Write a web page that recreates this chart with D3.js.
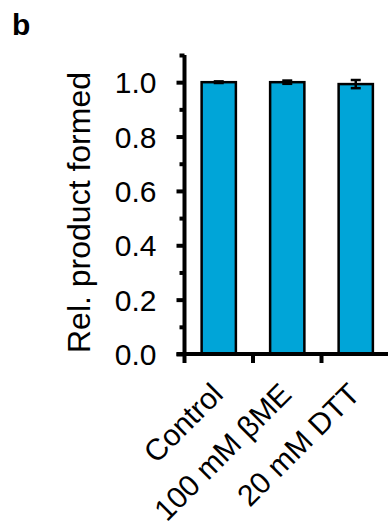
<!DOCTYPE html>
<html>
<head>
<meta charset="utf-8">
<script src="https://cdn.jsdelivr.net/npm/d3@7"></script>
<style>
  html, body { margin: 0; padding: 0; background: #fff; }
  text { font-family: "Liberation Sans", Arial, sans-serif; fill: #000; }
</style>
</head>
<body>
<svg id="chart" width="388" height="532"></svg>
<script>
// Relative product formed under each reducing condition (mean ± error)
const categories = ["Control", "100 mM βME", "20 mM DTT"];
const means = [1.0, 1.0, 0.993];
const errors = [0.003, 0.006, 0.015];
const majorTicks = [0.0, 0.2, 0.4, 0.6, 0.8, 1.0];
const minorTicks = [0.1, 0.3, 0.5, 0.7, 0.9, 1.1];

const svg = d3.select("#chart");
const plotLeft = 184.5, plotRight = 390, plotTop = 55, plotBottom = 354;

const y = d3.scaleLinear().domain([0, 1.1]).range([plotBottom, plotTop]);
const x = d3.scaleBand().domain(categories).range([plotLeft, plotRight]).padding(0);
const barW = x.bandwidth() / 2;

// Panel letter
svg.append("text").attr("x", 12).attr("y", 35)
  .style("font-size", "30px").style("font-weight", "bold").text("b");

// Bars
svg.selectAll("rect.bar").data(categories).enter().append("rect")
  .attr("class", "bar")
  .attr("x", d => x(d) + (x.bandwidth() - barW) / 2)
  .attr("width", barW)
  .attr("y", (d, i) => y(means[i]))
  .attr("height", (d, i) => y(0) - y(means[i]))
  .attr("fill", "#00a5d8")
  .attr("stroke", "#000")
  .attr("stroke-width", 2.5);

// Error bars
const eb = svg.append("g").attr("stroke", "#000").attr("stroke-width", 2.5);
categories.forEach((c, i) => {
  const cx = x(c) + x.bandwidth() / 2;
  const lo = y(means[i] - errors[i]), hi = y(means[i] + errors[i]);
  eb.append("line").attr("x1", cx).attr("x2", cx).attr("y1", lo).attr("y2", hi);
  eb.append("line").attr("x1", cx - 5).attr("x2", cx + 5).attr("y1", lo).attr("y2", lo);
  eb.append("line").attr("x1", cx - 5).attr("x2", cx + 5).attr("y1", hi).attr("y2", hi);
});

// Y axis: major ticks with labels, minor ticks without
const yAxis = svg.append("g").attr("transform", `translate(${plotLeft},0)`)
  .call(d3.axisLeft(y).tickValues(majorTicks).tickSize(8).tickPadding(20)
    .tickFormat(d3.format(".1f")));
yAxis.select(".domain").remove();
yAxis.selectAll(".tick line").attr("stroke-width", 4);
yAxis.selectAll(".tick text").style("font-size", "30px")
  .style("font-family", "'Liberation Sans', Arial, sans-serif").attr("dy", "0.35em");

const yMinor = svg.append("g").attr("transform", `translate(${plotLeft},0)`)
  .call(d3.axisLeft(y).tickValues(minorTicks).tickSize(5).tickFormat(""));
yMinor.select(".domain").remove();
yMinor.selectAll(".tick line").attr("stroke-width", 4);

svg.append("line").attr("x1", plotLeft).attr("x2", plotLeft)
  .attr("y1", y(1.1)).attr("y2", y(0) + 2)
  .attr("stroke", "#000").attr("stroke-width", 4);

// X axis baseline and boundary ticks
svg.append("line").attr("x1", plotLeft - 8).attr("x2", plotRight)
  .attr("y1", y(0)).attr("y2", y(0))
  .attr("stroke", "#000").attr("stroke-width", 4);
const boundaries = categories.map(c => x(c)).concat([x(categories[categories.length - 1]) + x.bandwidth()]);
svg.selectAll("line.xtick").data(boundaries).enter().append("line")
  .attr("class", "xtick")
  .attr("x1", d => d).attr("x2", d => d)
  .attr("y1", y(0)).attr("y2", y(0) + 9)
  .attr("stroke", "#000").attr("stroke-width", 4);

// Category labels set along 45° guide lines that end under each bar
const c45 = Math.SQRT1_2, guideLen = 260;
const defs = svg.append("defs");
defs.selectAll("path").data(categories).enter().append("path")
  .attr("id", (d, i) => "xguide" + i)
  .attr("d", d => {
    const ax = x(d) + x.bandwidth() / 2 + 6, ay = y(0) + 42;
    return `M${ax - guideLen * c45},${ay + guideLen * c45}L${ax},${ay}`;
  });
svg.selectAll("text.xlab").data(categories).enter().append("text")
  .attr("class", "xlab")
  .style("font-size", "30px")
  .append("textPath")
  .attr("href", (d, i) => "#xguide" + i)
  .attr("startOffset", "100%")
  .attr("text-anchor", "end")
  .text(d => d);

// Y axis title
svg.append("text")
  .attr("text-anchor", "middle")
  .attr("transform", `translate(90,${(y(0) + y(1.1)) / 2 + 8}) rotate(-90)`)
  .style("font-size", "32px")
  .text("Rel. product formed");
</script>
</body>
</html>
